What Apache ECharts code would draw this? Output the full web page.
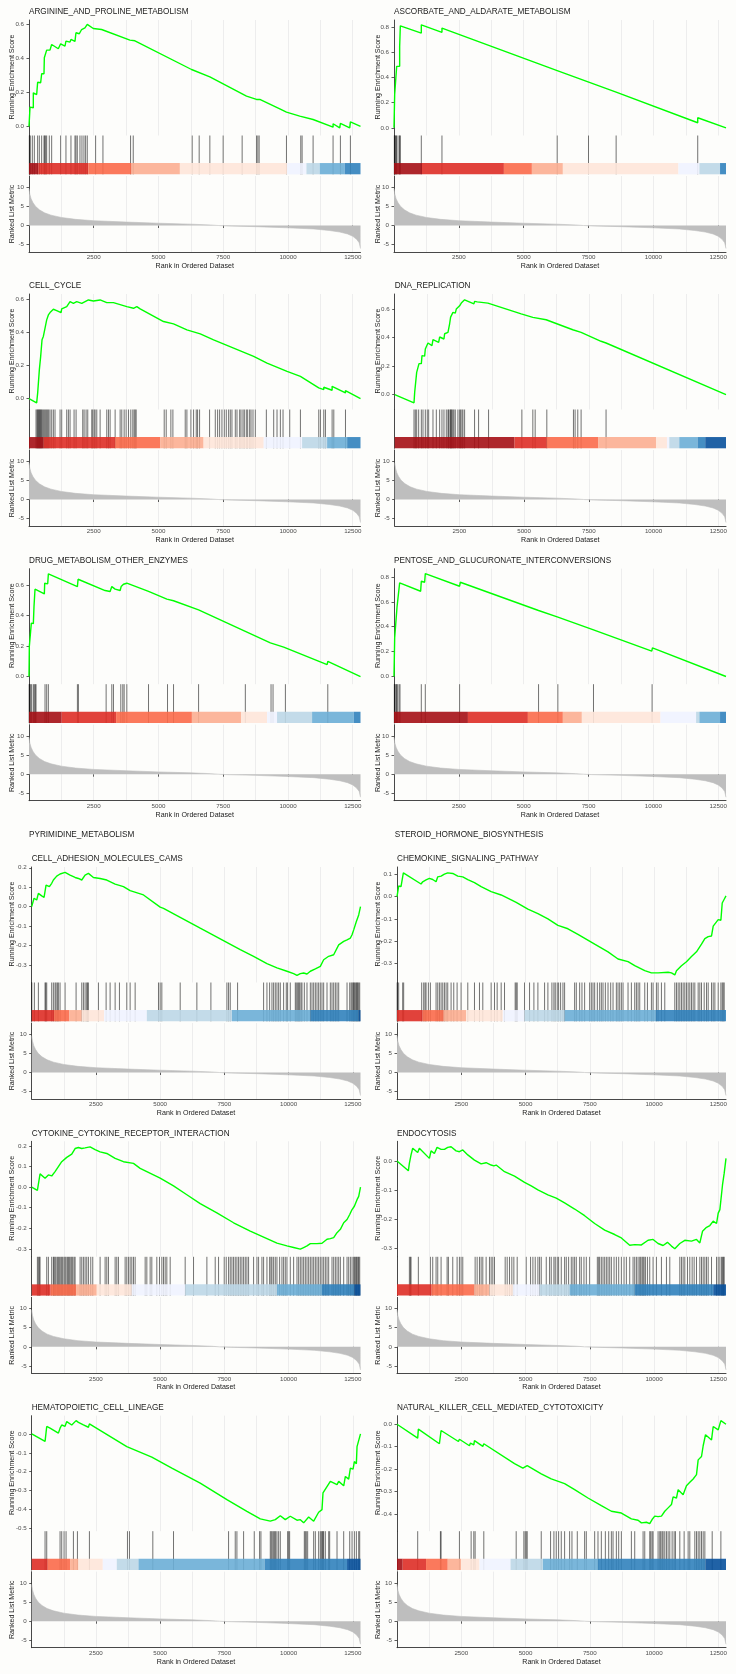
<!DOCTYPE html>
<html><head><meta charset="utf-8">
<script src="https://cdn.jsdelivr.net/npm/echarts@6/dist/echarts.min.js"></script>
<style>html,body{margin:0;padding:0;background:#fdfdfb}#c{width:736px;height:1674px}</style>
</head><body><div id="c"></div>
<script>
// ---------------- DATA ----------------
const N = 12800;
const rankTicks = [2500, 5000, 7500, 10000, 12500];
const metricTicks = [-5, 0, 5, 10];
const metricRank  = [1,30,80,150,250,400,600,850,1250,1800,2500,3750,5000,6250,7000,7300,7600,8750,10000,11000,11600,12000,12300,12500,12650,12750,12800];
const metricValue = [9.6,8.2,7.0,6.0,5.0,4.1,3.3,2.7,2.1,1.6,1.25,0.9,0.6,0.35,0.15,0,-0.1,-0.3,-0.6,-0.9,-1.3,-1.7,-2.2,-2.8,-3.6,-4.5,-6.0];

const names = ['ARGININE_AND_PROLINE_METABOLISM','ASCORBATE_AND_ALDARATE_METABOLISM','CELL_CYCLE','DNA_REPLICATION',
  'DRUG_METABOLISM_OTHER_ENZYMES','PENTOSE_AND_GLUCURONATE_INTERCONVERSIONS','CELL_ADHESION_MOLECULES_CAMS','CHEMOKINE_SIGNALING_PATHWAY',
  'CYTOKINE_CYTOKINE_RECEPTOR_INTERACTION','ENDOCYTOSIS','HEMATOPOIETIC_CELL_LINEAGE','NATURAL_KILLER_CELL_MEDIATED_CYTOTOXICITY'];
const hiddenNames = ['PYRIMIDINE_METABOLISM','STEROID_HORMONE_BIOSYNTHESIS'];

// running enrichment score curves [rank, ES]
const es1 = [[0,0],[39,0],[39,0.114],[167,0.11],[167,0.198],[296,0.188],[334,0.186],[334,0.26],[450,0.257],[489,0.31],[579,0.31],[592,0.404],[656,0.404],[682,0.449],[810,0.449],[875,0.482],[1132,0.457],[1222,0.486],[1389,0.473],[1427,0.502],[1582,0.496],[1620,0.512],[1775,0.5],[1813,0.551],[1942,0.545],[2032,0.57],[2160,0.58],[2250,0.6],[2482,0.576],[2546,0.586],[2803,0.57],[2868,0.578],[3897,0.508],[3961,0.5],[4090,0.504],[6276,0.335],[6983,0.292],[8398,0.178],[8783,0.159],[8912,0.159],[9684,0.104],[9941,0.084],[10455,0.061],[10520,0.071],[10970,0.041],[11034,0.051],[11741,-0.004],[11741,0.016],[11998,-0.008],[12024,0.018],[12384,-0.008],[12410,0.027],[12800,0]];
const es2 = [[0,0],[26,0],[26,0.264],[103,0.264],[103,0.488],[218,0.488],[218,0.644],[244,0.644],[244,0.81],[1053,0.752],[1053,0.818],[1849,0.758],[1849,0.792],[6292,0.454],[6300,0.456],[8564,0.284],[8570,0.288],[11710,0.04],[11710,0.08],[12800,0]];
const es3 = [[0,0],[296,-0.026],[335,0.034],[400,0.174],[451,0.254],[503,0.354],[554,0.374],[619,0.424],[683,0.474],[748,0.504],[812,0.518],[877,0.524],[941,0.538],[1070,0.53],[1237,0.518],[1263,0.54],[1457,0.554],[1585,0.584],[1714,0.574],[1843,0.584],[2037,0.574],[2101,0.584],[2294,0.594],[2488,0.588],[2746,0.594],[3003,0.578],[3261,0.578],[3777,0.554],[4035,0.544],[4163,0.554],[4292,0.54],[5195,0.464],[5581,0.45],[6097,0.414],[6613,0.39],[7128,0.354],[7902,0.304],[8675,0.254],[9191,0.214],[9964,0.164],[10480,0.134],[11188,0.064],[11382,0.054],[11382,0.068],[11704,0.05],[11704,0.074],[12220,0.034],[12220,0.048],[12800,0]];
const es4 = [[0,0],[746,-0.058],[772,0.016],[836,0.016],[849,0.156],[926,0.156],[939,0.217],[1029,0.217],[1055,0.273],[1157,0.27],[1183,0.32],[1260,0.32],[1286,0.362],[1440,0.343],[1479,0.385],[1698,0.367],[1736,0.404],[1903,0.39],[1929,0.427],[2058,0.437],[2083,0.45],[2122,0.497],[2160,0.544],[2251,0.577],[2341,0.572],[2379,0.6],[2508,0.623],[2572,0.642],[2701,0.665],[3061,0.637],[3086,0.654],[3189,0.651],[3215,0.665],[3601,0.642],[3627,0.654],[4887,0.567],[4913,0.577],[5337,0.542],[5401,0.553],[5851,0.525],[5890,0.53],[6880,0.455],[7202,0.437],[7973,0.374],[8166,0.362],[12800,0]];
const es5 = [[0,0],[13,0],[13,0.198],[77,0.193],[90,0.35],[168,0.346],[193,0.459],[219,0.463],[232,0.572],[271,0.567],[593,0.541],[606,0.611],[722,0.607],[748,0.672],[1869,0.589],[1895,0.637],[2939,0.563],[2965,0.572],[3132,0.557],[3197,0.589],[3326,0.572],[3519,0.563],[3558,0.589],[3648,0.604],[3777,0.611],[4615,0.557],[4653,0.563],[5324,0.507],[5388,0.509],[5581,0.496],[5607,0.502],[6548,0.437],[8353,0.296],[9320,0.22],[9384,0.224],[9835,0.193],[9900,0.2],[11511,0.078],[11537,0.1],[12800,0]];
const es6 = [[0,0],[26,0],[26,0.31],[103,0.31],[116,0.556],[193,0.556],[218,0.752],[1027,0.685],[1053,0.765],[1181,0.757],[1207,0.827],[2529,0.725],[2555,0.757],[5573,0.53],[5598,0.538],[6292,0.479],[6317,0.484],[7665,0.377],[7691,0.382],[9938,0.203],[9964,0.23],[12800,0]];
const es7 = [[0,0],[65,-0.003],[91,0.043],[195,0.034],[260,0.068],[390,0.055],[481,0.048],[559,0.111],[689,0.103],[779,0.12],[844,0.137],[974,0.157],[1104,0.168],[1299,0.176],[1494,0.162],[1689,0.15],[1819,0.145],[1949,0.137],[2078,0.162],[2208,0.171],[2403,0.15],[2663,0.145],[2923,0.137],[3248,0.116],[3572,0.103],[3832,0.082],[4352,0.06],[5001,-0.003],[5131,-0.009],[5781,-0.055],[6560,-0.111],[7339,-0.166],[8119,-0.222],[8638,-0.256],[9158,-0.294],[9548,-0.316],[9937,-0.333],[10197,-0.345],[10327,-0.354],[10457,-0.345],[10587,-0.342],[10717,-0.347],[10847,-0.333],[11042,-0.321],[11236,-0.308],[11366,-0.274],[11561,-0.256],[11756,-0.248],[11951,-0.197],[12146,-0.179],[12276,-0.171],[12406,-0.162],[12471,-0.145],[12535,-0.12],[12639,-0.077],[12730,-0.043],[12800,0]];
const es8 = [[0,0],[52,-0.003],[65,0.047],[156,0.044],[221,0.041],[247,0.106],[935,0.056],[1000,0.066],[1130,0.074],[1260,0.081],[1390,0.076],[1520,0.066],[1585,0.088],[1715,0.091],[1845,0.1],[1974,0.106],[2169,0.103],[2364,0.091],[2559,0.088],[2754,0.076],[3014,0.062],[3273,0.044],[3663,0.022],[4053,0.007],[4443,-0.015],[4637,-0.026],[4702,-0.022],[5092,-0.056],[5482,-0.076],[5871,-0.1],[6261,-0.129],[6651,-0.144],[7040,-0.169],[7690,-0.213],[8210,-0.247],[8599,-0.279],[8989,-0.291],[9249,-0.309],[9639,-0.331],[9898,-0.341],[10158,-0.341],[10548,-0.338],[10678,-0.341],[10808,-0.35],[10873,-0.331],[11067,-0.309],[11262,-0.291],[11457,-0.268],[11652,-0.247],[11847,-0.213],[11977,-0.188],[12107,-0.179],[12237,-0.176],[12302,-0.132],[12367,-0.14],[12497,-0.103],[12601,-0.106],[12653,-0.029],[12730,-0.012],[12800,0.003]];
const es9 = [[0,0],[221,-0.016],[325,0.064],[520,0.043],[650,0.059],[779,0.054],[909,0.075],[1039,0.099],[1169,0.123],[1364,0.144],[1559,0.16],[1689,0.187],[1819,0.192],[1949,0.187],[2078,0.19],[2273,0.195],[2468,0.182],[2663,0.171],[2923,0.163],[3248,0.139],[3572,0.123],[3962,0.115],[4222,0.091],[4741,0.059],[5001,0.043],[5521,0.006],[6040,-0.037],[6560,-0.08],[7209,-0.125],[7859,-0.173],[8508,-0.213],[9158,-0.25],[9548,-0.272],[9937,-0.285],[10197,-0.293],[10457,-0.301],[10587,-0.293],[10717,-0.285],[10847,-0.274],[11106,-0.274],[11301,-0.272],[11496,-0.253],[11626,-0.25],[11756,-0.245],[11886,-0.221],[12016,-0.205],[12146,-0.173],[12276,-0.157],[12380,-0.133],[12471,-0.109],[12561,-0.093],[12665,-0.061],[12730,-0.045],[12800,0]];
const es10 = [[0,0],[442,-0.034],[481,-0.008],[546,0.021],[611,0.044],[805,0.029],[870,0.044],[1260,0.009],[1325,0.035],[1455,0.026],[1559,0.047],[1715,0.04],[1780,0.035],[1845,0.04],[1974,0.047],[2104,0.049],[2299,0.035],[2429,0.032],[2559,0.038],[2754,0.021],[3014,0.003],[3273,-0.01],[3468,-0.006],[3663,-0.014],[3767,-0.017],[3858,-0.014],[4183,-0.037],[4572,-0.052],[4962,-0.074],[5222,-0.086],[5482,-0.1],[5871,-0.117],[6196,-0.128],[6521,-0.145],[6911,-0.166],[7300,-0.189],[7690,-0.216],[8080,-0.239],[8469,-0.254],[8729,-0.266],[9054,-0.291],[9249,-0.289],[9509,-0.29],[9768,-0.274],[9963,-0.271],[10158,-0.285],[10353,-0.292],[10522,-0.281],[10678,-0.294],[10808,-0.303],[11003,-0.285],[11197,-0.274],[11457,-0.277],[11652,-0.271],[11782,-0.283],[11886,-0.243],[12042,-0.229],[12172,-0.223],[12302,-0.208],[12432,-0.216],[12497,-0.18],[12562,-0.168],[12627,-0.163],[12665,-0.082],[12704,-0.082],[12730,-0.042],[12800,0.009]];
const es11 = [[0,0],[520,-0.04],[585,0.039],[714,0.03],[1039,0.004],[1104,0.03],[1169,0.047],[1299,0.04],[1364,0.065],[1559,0.047],[1624,0.056],[1728,0.07],[1819,0.061],[2013,0.047],[2208,0.035],[2247,0.053],[3702,-0.067],[3767,-0.058],[4676,-0.123],[4741,-0.12],[5456,-0.181],[5521,-0.177],[6560,-0.26],[7599,-0.347],[8378,-0.409],[8898,-0.449],[9288,-0.461],[9483,-0.453],[9678,-0.432],[9872,-0.453],[9937,-0.456],[10067,-0.435],[10327,-0.456],[10457,-0.453],[10587,-0.47],[10652,-0.475],[10782,-0.439],[10977,-0.461],[11171,-0.414],[11301,-0.4],[11340,-0.312],[11626,-0.251],[11886,-0.268],[11951,-0.251],[12146,-0.274],[12211,-0.225],[12340,-0.239],[12406,-0.181],[12510,-0.186],[12561,-0.146],[12639,-0.158],[12665,-0.067],[12730,-0.075],[12800,0]];
const es12 = [[0,0],[805,-0.062],[831,-0.022],[1650,-0.087],[1715,-0.028],[2390,-0.077],[2429,-0.067],[2819,-0.096],[2858,-0.084],[2988,-0.092],[3014,-0.073],[3338,-0.099],[3377,-0.087],[4572,-0.176],[4897,-0.196],[4962,-0.192],[5066,-0.185],[5612,-0.221],[6001,-0.244],[6521,-0.265],[6911,-0.292],[7430,-0.329],[7950,-0.363],[8340,-0.388],[8729,-0.396],[9119,-0.422],[9379,-0.428],[9509,-0.44],[9704,-0.437],[9833,-0.443],[9924,-0.425],[10028,-0.41],[10158,-0.412],[10288,-0.41],[10418,-0.388],[10548,-0.373],[10678,-0.358],[10743,-0.324],[10873,-0.329],[10938,-0.292],[11132,-0.314],[11262,-0.274],[11392,-0.259],[11522,-0.244],[11652,-0.225],[11717,-0.159],[11847,-0.144],[11912,-0.096],[12003,-0.047],[12237,-0.07],[12302,-0.01],[12497,-0.025],[12601,0.016],[12800,0]];

// gene-set hit ranks
const hits1 = [13,51,129,206,334,399,489,579,604,643,682,784,875,1222,1427,1620,1775,1813,1865,1968,2045,2122,2186,2250,2572,2855,3922,4025,6301,6571,6983,7497,8230,8783,8835,8886,9941,10494,10545,10970,11741,12024,12410];
const hits2 = [13,39,64,90,116,193,218,244,1053,1849,6292,7499,8564,11710];
const hits3 = [271,309,335,361,387,412,438,464,490,528,567,606,645,683,722,761,812,877,941,1005,1199,1263,1457,1521,1585,1740,1818,2075,2127,2204,2269,2423,2462,2514,2552,2617,2746,3003,3068,3132,3326,3519,3583,3674,3751,3841,3931,4009,4060,4099,4138,5221,5298,5478,5556,6032,6097,6252,6355,6458,6509,6587,6973,7193,7283,7360,7450,7541,7618,7708,7773,7837,7966,8031,8134,8185,8262,8314,8391,8443,8520,8572,8649,8739,9165,9448,9577,9706,9809,10067,10480,11188,11253,11382,11446,11704,11769,12220];
const hits4 = [746,797,849,926,1029,1093,1183,1260,1312,1479,1608,1736,1826,1903,1993,2058,2083,2135,2160,2186,2212,2251,2289,2341,2443,2508,2546,2598,2636,2701,3086,3241,3627,4913,5337,5427,5877,6906,6970,7073,7202,8166];
const hits5 = [5,26,64,103,168,206,245,271,619,683,748,1869,1908,2978,3197,3261,3545,3622,3674,3777,4615,5349,5581,6548,8353,9346,9423,9900,11537];
const hits6 = [13,39,77,103,128,193,231,1053,1207,2529,5573,6317,7691,9951];
const hits7 = [5,104,260,520,546,585,779,844,909,948,1000,1039,1104,1299,1728,1949,2013,2078,2143,2169,2208,2598,2897,3053,3248,3416,3702,3832,4027,4936,5001,5066,5781,6430,6976,7599,7664,7729,8015,9028,9158,9262,9353,9418,9483,9548,9613,9678,9807,9911,9963,10067,10262,10301,10353,10392,10431,10483,10522,10613,10717,10847,10912,10977,11042,11106,11171,11236,11301,11366,11496,11626,11691,11756,11821,11886,11951,12276,12380,12432,12471,12510,12535,12561,12600,12639,12665,12691,12730,12769];
const hits8 = [5,65,221,260,961,1039,1091,1130,1221,1299,1520,1585,1650,1715,1780,1845,1910,1974,2104,2208,2338,2494,2754,3014,3209,3338,3663,3793,3897,4053,4183,4598,4637,4676,4962,5157,5326,5482,5742,5871,6027,6105,6157,6235,6287,6365,6456,6521,6911,6976,7106,7196,7300,7495,7560,7625,7690,7794,7885,7950,8015,8106,8210,8314,8405,8534,8599,8664,8729,8794,8989,9119,9249,9314,9379,9444,9639,9743,9898,9963,10093,10158,10288,10418,10808,10873,10938,11003,11067,11132,11197,11262,11327,11392,11457,11522,11587,11717,11782,11847,11951,12042,12107,12237,12302,12367,12497,12601,12653,12691,12730];
const hits9 = [221,260,299,325,585,650,779,844,870,909,948,1000,1039,1078,1130,1169,1208,1260,1299,1338,1390,1429,1468,1520,1559,1598,1650,1689,1884,1949,2013,2078,2143,2208,2299,2377,2663,2858,2923,2988,3248,3312,3377,3637,3702,3767,3832,3897,3962,4027,4417,4482,4611,4676,4871,4975,5066,5131,5196,5261,5391,5975,6300,6820,7144,7274,7495,7573,7664,7729,7794,7859,7924,7989,8054,8119,8184,8249,8314,8378,8443,8638,8768,8833,8963,9028,9158,9262,9314,9353,9418,9483,9548,9652,9742,9807,9872,9937,10067,10197,10327,10392,10457,10522,10587,10652,10717,10782,10847,10912,10977,11042,11106,11171,11236,11301,11366,11431,11496,11561,11691,11756,11821,11886,11951,12016,12146,12276,12340,12406,12471,12535,12561,12600,12639,12665,12704,12730,12769];
const hits10 = [481,520,546,831,1299,1390,1520,1585,1715,1949,2000,2169,2338,2429,2494,2559,3040,3118,3209,3273,3338,3468,3598,3663,3728,3793,4209,4287,4378,4468,4546,4676,5027,5196,5287,5378,5482,5547,5612,5807,5936,6001,6105,6157,6235,6287,6391,6521,6586,6677,6781,6846,6911,6976,7106,7170,7274,7365,7495,7794,7846,7885,7950,8015,8080,8145,8210,8275,8340,8444,8534,8625,8729,8833,8924,9054,9184,9249,9314,9379,9444,9483,9535,9574,9613,9665,9743,9833,9963,10093,10288,10483,10613,11003,11067,11132,11197,11301,11392,11483,11561,11652,11782,11847,11912,11977,12042,12107,12237,12432,12497,12562,12627,12665,12704,12730];
const hits11 = [520,585,1104,1169,1260,1338,1624,1780,2247,3728,3806,4715,5521,7664,7924,7989,8249,8664,8872,8924,9288,9327,9366,9418,9457,9496,9548,9613,9678,9963,10002,10041,10613,10652,10691,10743,10977,11042,11171,11236,11275,11314,11340,11366,11431,11561,11600,11886,12146,12380,12471,12561,12639,12730,12769];
const hits12 = [805,1689,1715,2429,2884,2988,3040,3377,4637,4936,4988,5027,5066,5612,5975,6105,6196,6287,6391,6521,6716,6807,7014,7300,7365,7690,7820,7950,8106,8236,8340,8405,8534,8625,8729,9119,9249,9574,9639,9833,9872,9924,9963,10158,10223,10262,10314,10353,10418,10483,10548,10613,10704,10782,10834,11003,11171,11327,11392,11587,11652,11717,11782,11847,11912,11977,12263,12601];

// colour-bar segment edges (ranks) and their RdBu level (0 = darkest red ... 9 = darkest blue)
const barEdges1 = [0,360,2289,3961,5826,9967,10712,11227,12191,12800];            const barLevels1 = [0,1,2,3,4,5,6,7,8];
const barEdges2 = [0,1079,4237,5316,6510,10965,11774,12570,12800];                const barLevels2 = [0,1,2,3,4,5,6,8];
const barEdges3 = [0,554,3326,5066,6741,9062,10544,11511,12284,12800];            const barLevels3 = [0,1,2,3,4,5,6,7,8];
const barEdges4 = [0,4630,5877,7870,10095,10519,10609,10995,11701,11997,12800];   const barLevels4 = [0,1,2,3,4,5,6,7,8,9];
const barEdges5 = [0,1263,3364,6290,8185,9191,9577,10931,12542,12800];            const barLevels5 = [0,1,2,3,4,5,6,7,8];
const barEdges6 = [0,2850,5162,6510,7242,10272,11646,11774,12570,12800];          const barLevels6 = [0,1,2,3,4,5,6,7,8];
const barEdges7 = [0,870,1468,1949,2819,4482,7794,10847,12730,12800];             const barLevels7 = [1,2,3,4,5,6,7,8,9];
const barEdges8 = [0,1000,1819,2689,4118,4962,6521,10054,12800];                  const barLevels8 = [1,2,3,4,5,6,7,8];
const barEdges9 = [0,740,1728,2533,3897,5975,9548,11301,12561,12800];             const barLevels9 = [1,2,3,4,5,6,7,8,9];
const barEdges10 = [0,1351,3014,3598,4508,5547,6716,9249,12302,12800];            const barLevels10 = [1,2,3,4,5,6,7,8,9];
const barEdges11 = [0,624,1494,1819,2767,3312,4157,9067,12276,12800];             const barLevels11 = [1,2,3,4,5,6,7,8,9];
const barEdges12 = [0,221,1130,1974,2494,3209,4417,5677,7820,12003,12800];        const barLevels12 = [0,1,2,3,4,5,6,7,8,9];

// ES axis ranges and tick labels
const esRanges = [[-0.053,0.626],[-0.061,0.856],[-0.066,0.63],[-0.105,0.706],[-0.05,0.706],[-0.062,0.866],
                  [-0.391,0.204],[-0.384,0.132],[-0.338,0.222],[-0.331,0.068],[-0.514,0.096],[-0.477,0.038]];
const esTicks = [[0,0.2,0.4,0.6],[0,0.2,0.4,0.6,0.8],[0,0.2,0.4,0.6],[0,0.2,0.4,0.6],[0,0.2,0.4,0.6],[0,0.2,0.4,0.6,0.8],
                 [-0.3,-0.2,-0.1,0,0.1,0.2],[-0.3,-0.2,-0.1,0,0.1],[-0.3,-0.2,-0.1,0,0.1,0.2],[-0.3,-0.2,-0.1,0],
                 [-0.5,-0.4,-0.3,-0.2,-0.1,0],[-0.4,-0.3,-0.2,-0.1,0]];
const metricRange = [-6.9, 12.9];

// ---------------- STYLE / LAYOUT ----------------
const PALETTE = ['#A50F15','#DE2D26','#FB6A4A','#FCAE91','#FEE5D9','#EFF3FF','#BDD7E7','#6BAED6','#3182BD','#08519C'];
const FONT = '"Liberation Sans", Arial, Helvetica, sans-serif';
const rowT = [12, 286, 560.7, 859, 1133.3, 1407.7];
const lefts = [29, 394, 29, 394.7, 29, 394, 31.7, 397, 31.7, 397, 31.7, 397];
const rightEdge = [360.5, 726];
const yTitleX = [12.3, 378];
const W = 736;
const BAR_FRAC = 0.29;
const AX = '#333';

const esCurves = [es1,es2,es3,es4,es5,es6,es7,es8,es9,es10,es11,es12];
const hitsAll = [hits1,hits2,hits3,hits4,hits5,hits6,hits7,hits8,hits9,hits10,hits11,hits12];
const edgesAll = [barEdges1,barEdges2,barEdges3,barEdges4,barEdges5,barEdges6,barEdges7,barEdges8,barEdges9,barEdges10,barEdges11,barEdges12];
const levelsAll = [barLevels1,barLevels2,barLevels3,barLevels4,barLevels5,barLevels6,barLevels7,barLevels8,barLevels9,barLevels10,barLevels11,barLevels12];
const metricData = metricRank.map((r, i) => [r, metricValue[i]]);

const grids = [], xAxes = [], yAxes = [], series = [], graphics = [];

function txt(x, y, s, size, align, rot) {
  const el = { type: 'text', x: x, y: y, silent: true, z: 100,
    style: { text: s, fontSize: size, fontFamily: FONT, fill: '#1a1a1a',
             textAlign: align || 'left', align: align || 'left', textVerticalAlign: 'middle', verticalAlign: 'middle' } };
  if (rot) el.rotation = rot;
  return el;
}
const gridSplit = { show: true, showMinLine: false, showMaxLine: false, lineStyle: { color: '#ebebeb', width: 0.9 } };
const hidden = { axisLine: { show: false }, axisTick: { show: false }, axisLabel: { show: false }, splitLine: { show: false } };

names.forEach((name, i) => {
  const r = Math.floor(i / 2), c = i % 2, T = rowT[r];
  const L = lefts[i], R = W - rightEdge[c];
  const g0 = grids.length;
  grids.push({ left: L, right: R, top: T + 8, height: 115.5 });
  grids.push({ left: L, right: R, top: T + 123.5, height: 38.8 });
  grids.push({ left: L, right: R, top: T + 164, height: 76 });

  const xi = xAxes.length, yi = yAxes.length;
  xAxes.push(Object.assign({}, hidden, { type: 'value', gridIndex: g0, min: 0, max: N, interval: 1250, splitLine: gridSplit }));
  xAxes.push(Object.assign({}, hidden, { type: 'value', gridIndex: g0 + 1, min: 0, max: N }));
  xAxes.push({ type: 'value', gridIndex: g0 + 2, min: 0, max: N, interval: 1250, position: 'bottom',
    axisLine: { show: true, onZero: false, lineStyle: { color: AX, width: 0.9 } },
    axisTick: { show: false }, axisLabel: { show: false }, splitLine: gridSplit });
  xAxes.push({ type: 'value', gridIndex: g0 + 2, min: 0, max: N, interval: 2500, position: 'bottom',
    axisLine: { show: false }, splitLine: { show: false },
    axisTick: { show: true, customValues: rankTicks, length: 2.5, lineStyle: { color: AX, width: 0.8 } },
    axisLabel: { show: true, customValues: rankTicks, margin: 2.5, fontSize: 6.2, fontFamily: FONT, color: '#4d4d4d',
                 formatter: v => String(v) } });

  yAxes.push({ type: 'value', gridIndex: g0, min: esRanges[i][0], max: esRanges[i][1],
    axisLine: { show: true, onZero: false, lineStyle: { color: AX, width: 0.9 } },
    axisTick: { show: true, customValues: esTicks[i], length: 2.5, lineStyle: { color: AX, width: 0.8 } },
    axisLabel: { show: true, customValues: esTicks[i], margin: 5, fontSize: 6.2, fontFamily: FONT, color: '#4d4d4d',
                 formatter: v => Number(v).toFixed(1) },
    splitLine: { show: false } });
  yAxes.push(Object.assign({}, hidden, { type: 'value', gridIndex: g0 + 1, min: 0, max: 1,
    axisLine: { show: true, onZero: false, lineStyle: { color: AX, width: 0.9 } } }));
  yAxes.push({ type: 'value', gridIndex: g0 + 2, min: metricRange[0], max: metricRange[1],
    axisLine: { show: true, onZero: false, lineStyle: { color: AX, width: 0.9 } },
    axisTick: { show: true, customValues: metricTicks, length: 2.5, lineStyle: { color: AX, width: 0.8 } },
    axisLabel: { show: true, customValues: metricTicks, margin: 5, fontSize: 6.2, fontFamily: FONT, color: '#4d4d4d' },
    splitLine: { show: false } });

  series.push({ type: 'line', xAxisIndex: xi, yAxisIndex: yi, data: esCurves[i], showSymbol: false, symbol: 'none',
    silent: true, z: 5, lineStyle: { color: '#00ff00', width: 1.4 } });
  series.push({ type: 'custom', xAxisIndex: xi + 1, yAxisIndex: yi + 1, silent: true, z: 2,
    data: hitsAll[i].map(h => [h, 0]),
    renderItem: (p, api) => {
      const x = api.value(0); const a = api.coord([x, 0]), b = api.coord([x, 1]);
      return { type: 'line', shape: { x1: a[0], y1: a[1], x2: b[0], y2: b[1] },
               style: { stroke: 'rgba(0,0,0,0.62)', lineWidth: 0.9 } };
    } });
  const edges = edgesAll[i], lv = levelsAll[i];
  series.push({ type: 'custom', xAxisIndex: xi + 1, yAxisIndex: yi + 1, silent: true, z: 3,
    data: lv.map((l, k) => [edges[k], edges[k + 1], l]),
    renderItem: (p, api) => {
      const a = api.coord([api.value(0), 0]), b = api.coord([api.value(1), BAR_FRAC]);
      return { type: 'rect', shape: { x: a[0], y: b[1], width: b[0] - a[0], height: a[1] - b[1] },
               style: { fill: PALETTE[api.value(2)], opacity: 0.9 } };
    } });
  series.push({ type: 'line', xAxisIndex: xi + 2, yAxisIndex: yi + 2, data: metricData, showSymbol: false, symbol: 'none',
    silent: true, z: 2, lineStyle: { color: '#bebebe', width: 0.6 }, areaStyle: { color: '#bebebe', opacity: 1, origin: 'auto' } });

  graphics.push(txt(L, T, name, 8.2));
  graphics.push(txt((L + rightEdge[c]) / 2, T + 254, 'Rank in Ordered Dataset', 7.1, 'center'));
  graphics.push(txt(yTitleX[c], T + 65, 'Running Enrichment Score', 7.1, 'center', Math.PI / 2));
  graphics.push(txt(yTitleX[c], T + 202, 'Ranked List Metric', 7.1, 'center', Math.PI / 2));
});
graphics.push(txt(29, 835, hiddenNames[0], 8.2));
graphics.push(txt(394.7, 835, hiddenNames[1], 8.2));

const chart = echarts.init(document.getElementById('c'), null, { renderer: 'canvas', width: 736, height: 1674 });
chart.setOption({
  backgroundColor: '#fdfdfb',
  animation: false,
  grid: grids, xAxis: xAxes, yAxis: yAxes, series: series,
  graphic: { elements: graphics }
});
</script></body></html>
